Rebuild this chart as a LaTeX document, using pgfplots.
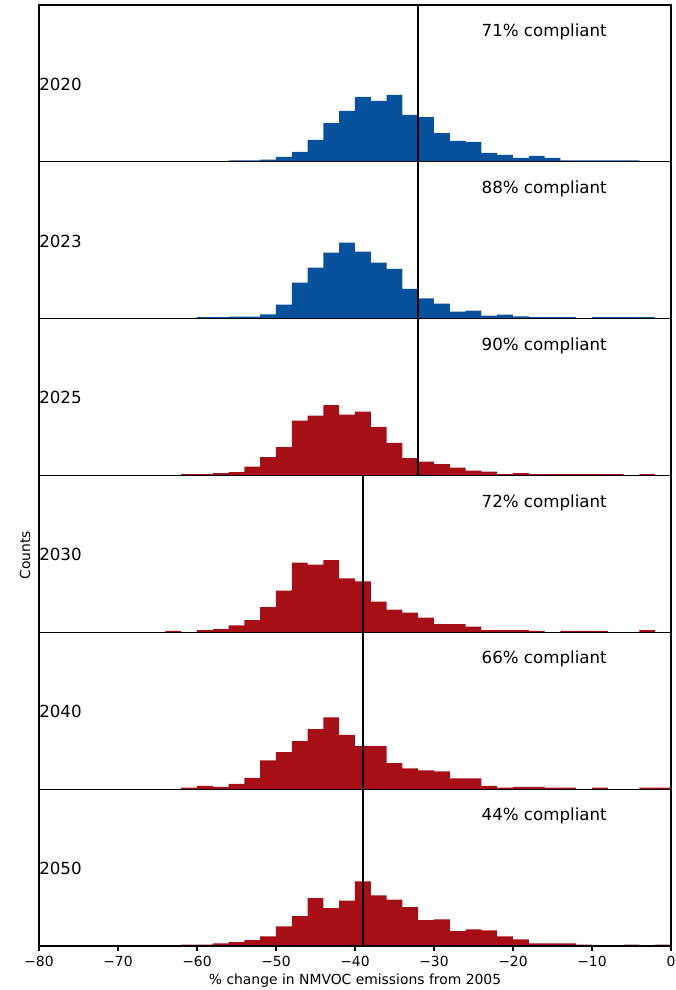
\documentclass[border=0pt]{standalone}
\usepackage{fontspec}
\setmainfont{DejaVu Sans}
\usepackage{pgfplots}
\pgfplotsset{compat=1.18}
\definecolor{hblue}{RGB}{8,81,156}
\definecolor{hred}{RGB}{165,15,21}
\pgfplotsset{
  panel/.style={
    width=455.04pt, height=112.92pt, scale only axis,
    xmin=-80, xmax=0, ymin=0, ymax=156.83,
    ytick=\empty, xtick=\empty,
    axis on top,
    axis line style={black, line width=0.8pt},
    anchor=north west,
  },
  hist/.style={const plot mark left, fill=#1, draw=none},
  vl/.style={black, line width=1.5pt},
}
\newcommand{\ann}[2]{%
  \node[anchor=west, inner sep=0pt, font=\fontsize{12}{14}\selectfont] at (rel axis cs:0.7,0.828) {#1};
  \node[anchor=west, inner sep=0pt, font=\fontsize{12}{14}\selectfont] at (rel axis cs:0,0.495) {#2};
}
\begin{document}
\begin{tikzpicture}
\path[use as bounding box] (-28.08pt,3.6pt) rectangle (458.64pt,-709.2pt);

% 2020
\begin{axis}[panel, at={(0pt,0pt)}]
\addplot[hist=hblue] coordinates {
(-64,0) (-62,0) (-60,0) (-58,0) (-56,1.5) (-54,1.5) (-52,2.3) (-50,5) (-48,10) (-46,22)
(-44,38.6) (-42,51) (-40,65) (-38,61) (-36,67) (-34,47) (-32,44.6) (-30,28.6) (-28,21) (-26,20)
(-24,9) (-22,7) (-20,4) (-18,6) (-16,4) (-14,1.5) (-12,1.5) (-10,1.5) (-8,1.5) (-6,1.5) (-4,0) (-2,0) (0,0)
} \closedcycle;
\addplot[vl] coordinates {(-32,0) (-32,156.83)};
\ann{71\% compliant}{2020}
\end{axis}

% 2023
\begin{axis}[panel, at={(0pt,-112.92pt)}]
\addplot[hist=hblue] coordinates {
(-64,0) (-62,0) (-60,1.5) (-58,1.5) (-56,2) (-54,2) (-52,4.4) (-50,14) (-48,36) (-46,51)
(-44,66) (-42,76) (-40,67) (-38,56) (-36,49.7) (-34,29.7) (-32,20.3) (-30,15) (-28,7) (-26,8)
(-24,3) (-22,4) (-20,2.3) (-18,1.5) (-16,1.5) (-14,1.5) (-12,0) (-10,1.5) (-8,1.5) (-6,1.5) (-4,1.5) (-2,0) (0,0)
} \closedcycle;
\addplot[vl] coordinates {(-32,0) (-32,156.83)};
\ann{88\% compliant}{2023}
\end{axis}

% 2025
\begin{axis}[panel, at={(0pt,-225.84pt)}]
\addplot[hist=hred] coordinates {
(-64,0) (-62,1.5) (-60,1.5) (-58,2.3) (-56,3.3) (-54,9) (-52,18.3) (-50,28.3) (-48,55) (-46,60)
(-44,70.3) (-42,61) (-40,64) (-38,48.7) (-36,32.7) (-34,17.3) (-32,14) (-30,11.3) (-28,8) (-26,5)
(-24,4) (-22,1.5) (-20,2.3) (-18,1.5) (-16,1.5) (-14,1.5) (-12,1.5) (-10,1.5) (-8,1.5) (-6,0) (-4,1.5) (-2,0) (0,0)
} \closedcycle;
\addplot[vl] coordinates {(-32,0) (-32,156.83)};
\ann{90\% compliant}{2025}
\end{axis}

% 2030
\begin{axis}[panel, at={(0pt,-338.76pt)}]
\addplot[hist=hred] coordinates {
(-64,1.5) (-62,0) (-60,2.3) (-58,3.3) (-56,7) (-54,12.3) (-52,25.3) (-50,41.7) (-48,69.7) (-46,67.7)
(-44,72.3) (-42,54) (-40,51) (-38,30.7) (-36,22.7) (-34,19.7) (-32,14.7) (-30,8.3) (-28,8.3) (-26,5.7)
(-24,2.3) (-22,2.3) (-20,2.3) (-18,1.5) (-16,0) (-14,1.5) (-12,1.5) (-10,1.5) (-8,0) (-6,0) (-4,2.3) (-2,0) (0,0)
} \closedcycle;
\addplot[vl] coordinates {(-39,0) (-39,156.83)};
\ann{72\% compliant}{2030}
\end{axis}

% 2040
\begin{axis}[panel, at={(0pt,-451.68pt)}]
\addplot[hist=hred] coordinates {
(-64,0) (-62,1.5) (-60,3.3) (-58,2.3) (-56,5.3) (-54,11.3) (-52,28.7) (-50,37) (-48,48) (-46,60)
(-44,71.7) (-42,54.3) (-40,43) (-38,43) (-36,26) (-34,20.7) (-32,18.7) (-30,17.7) (-28,10.7) (-26,10.7)
(-24,3.3) (-22,1.5) (-20,2.3) (-18,2.3) (-16,1.5) (-14,1.5) (-12,0) (-10,1.5) (-8,0) (-6,0) (-4,1.5) (-2,1.5) (0,0)
} \closedcycle;
\addplot[vl] coordinates {(-39,0) (-39,156.83)};
\ann{66\% compliant}{2040}
\end{axis}

% 2050
\begin{axis}[panel, at={(0pt,-564.6pt)},
  xtick={-80,-70,-60,-50,-40,-30,-20,-10,0},
  xticklabels={−80,−70,−60,−50,−40,−30,−20,−10,0},
  xtick pos=bottom, tick align=outside, major tick length=3.5pt,
  tick style={black, line width=0.8pt},
  xticklabel style={font=\fontsize{10}{12}\selectfont}]
\addplot[hist=hred] coordinates {
(-64,0) (-62,1.5) (-60,1.5) (-58,2.7) (-56,4) (-54,6) (-52,9.7) (-50,19.7) (-48,30) (-46,48)
(-44,38) (-42,45.3) (-40,64.7) (-38,50.7) (-36,46.3) (-34,39) (-32,26) (-30,26.7) (-28,15) (-26,16.7)
(-24,15.7) (-22,9.7) (-20,6.7) (-18,2.7) (-16,2.7) (-14,2.7) (-12,1.5) (-10,0) (-8,0) (-6,1.5) (-4,0) (-2,1.5) (0,0)
} \closedcycle;
\addplot[vl] coordinates {(-39,0) (-39,156.83)};
\ann{44\% compliant}{2050}
\end{axis}

\node[rotate=90, font=\fontsize{10}{12}\selectfont] at (-10.08pt,-396pt) {Counts};
\node[font=\fontsize{10}{12}\selectfont] at (227.52pt,-702.7pt) {\% change in NMVOC emissions from 2005};
\end{tikzpicture}
\end{document}
